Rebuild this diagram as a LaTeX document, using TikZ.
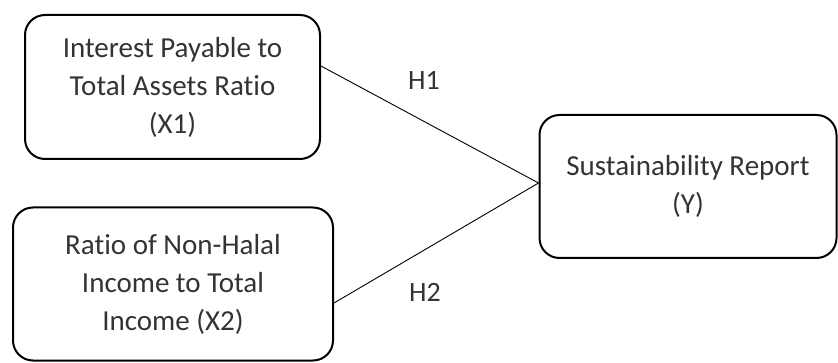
\documentclass[tikz,border=0pt]{standalone}
\usepackage{fontspec}
\setmainfont[Ligatures=NoCommon]{Carlito}
\begin{document}
\begin{tikzpicture}[x=1pt,y=-1pt,
      box/.style={draw,line width=2pt,rounded corners=20pt,align=center,
        font=\fontsize{29}{38}\selectfont,text=black!80},
      link/.style={draw,line width=0.9pt},
      hyp/.style={font=\fontsize{28}{30}\selectfont,text=black!80}]
      \useasboundingbox (0,0) rectangle (838,363);
      \node[box,minimum width=295pt,minimum height=144pt] (x1) at (172.5,87)
        {Interest Payable to\\Total Assets Ratio\\(X1)};
      \node[box,minimum width=320pt,minimum height=153pt] (x2) at (173,284)
        {Ratio of Non-Halal\\Income to Total\\Income (X2)};
      \node[box,minimum width=297pt,minimum height=143pt] (y) at (688,186.5)
        {Sustainability Report\\(Y)};
      \draw[link] ([yshift=21pt]x1.east) -- ([yshift=3.5pt]y.west);
      \draw[link] ([yshift=-19pt]x2.east) -- ([yshift=3.5pt]y.west);
      \node[hyp] (h1) at (424,80) {H1};
      \node[hyp] (h2) at (425,292) {H2};
    \end{tikzpicture}
\end{document}
